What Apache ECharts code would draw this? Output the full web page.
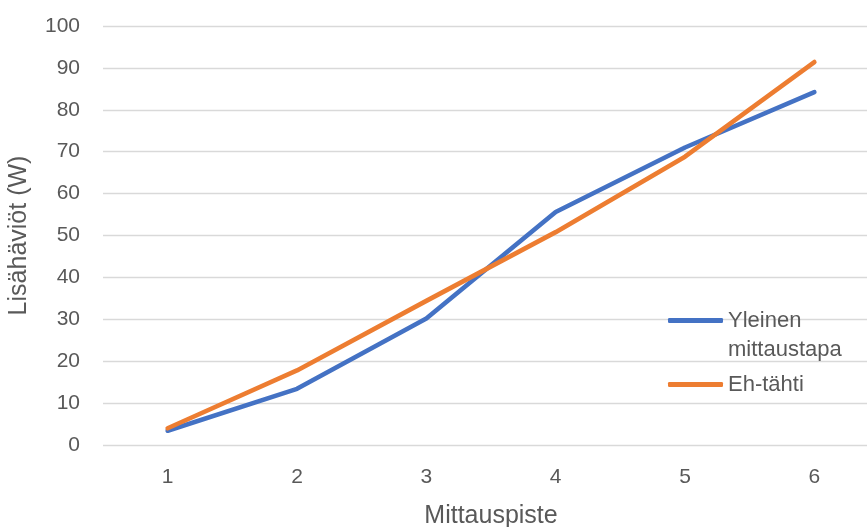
<!DOCTYPE html>
<html>
<head>
<meta charset="utf-8">
<script src="https://cdn.jsdelivr.net/npm/echarts@6/dist/echarts.min.js"></script>
<style>
  html, body { margin: 0; padding: 0; background: #fff; overflow: hidden; }
  /* plot area runs a little past the right edge of the window */
  #chart { width: 879px; height: 527px; }
</style>
</head>
<body>
<div id="chart"></div>
<script>
// Measurement points and the two methods compared
const categories = ['1', '2', '3', '4', '5', '6'];
const yleinenMittaustapa = [3.4, 13.4, 30.2, 55.6, 71.0, 84.2];
const ehTahti = [4.0, 17.8, 34.4, 50.8, 68.8, 91.4];
const seriesNames = ['Yleinen mittaustapa', 'Eh-tähti'];
const yTicks = { min: 0, max: 100, interval: 10 };

const textColor = '#595959';
const fontFamily = '"Liberation Sans", Arial, sans-serif';

const chart = echarts.init(document.getElementById('chart'), null, { renderer: 'canvas' });

chart.setOption({
  animation: false,
  backgroundColor: '#ffffff',
  textStyle: { fontFamily: fontFamily, color: textColor },
  grid: { left: 103, top: 26, right: 0, bottom: 82, containLabel: false, outerBoundsMode: 'none' },
  legend: [
    {
      data: [seriesNames[0]],
      orient: 'vertical',
      left: 668,
      top: 277,
      padding: 0,
      itemWidth: 55,
      itemHeight: 5,
      icon: 'roundRect',
      // blank first line keeps "Yleinen" level with the legend line
      formatter: function () { return ' \nYleinen\nmittaustapa'; },
      textStyle: { fontSize: 22, color: textColor, fontFamily: fontFamily, lineHeight: 29 }
    },
    {
      data: [seriesNames[1]],
      orient: 'vertical',
      left: 668,
      top: 370,
      padding: 0,
      itemWidth: 55,
      itemHeight: 5,
      icon: 'roundRect',
      textStyle: { fontSize: 22, color: textColor, fontFamily: fontFamily, lineHeight: 29 }
    }
  ],
  xAxis: {
    type: 'category',
    data: categories,
    boundaryGap: true,
    name: 'Mittauspiste',
    nameLocation: 'middle',
    nameGap: 59,
    nameTextStyle: { fontSize: 25, color: textColor, fontFamily: fontFamily },
    axisLine: { show: false },
    axisTick: { show: false },
    axisLabel: { fontSize: 21, color: textColor, margin: 22, fontFamily: fontFamily }
  },
  yAxis: {
    type: 'value',
    min: yTicks.min,
    max: yTicks.max,
    interval: yTicks.interval,
    name: 'Lisähäviöt (W)',
    nameLocation: 'middle',
    nameGap: 71,
    nameRotate: 90,
    nameTextStyle: { fontSize: 25, color: textColor, fontFamily: fontFamily },
    axisLine: { show: false },
    axisTick: { show: false },
    axisLabel: { fontSize: 21, color: textColor, margin: 23, fontFamily: fontFamily },
    splitLine: { show: true, lineStyle: { color: '#d9d9d9', width: 1.3 } }
  },
  series: [
    {
      name: seriesNames[0],
      type: 'line',
      data: yleinenMittaustapa,
      symbol: 'none',
      color: '#4472C4',
      lineStyle: { width: 4.6, color: '#4472C4', cap: 'round', join: 'round' }
    },
    {
      name: seriesNames[1],
      type: 'line',
      data: ehTahti,
      symbol: 'none',
      color: '#ED7D31',
      lineStyle: { width: 4.6, color: '#ED7D31', cap: 'round', join: 'round' }
    }
  ]
});
</script>
</body>
</html>
